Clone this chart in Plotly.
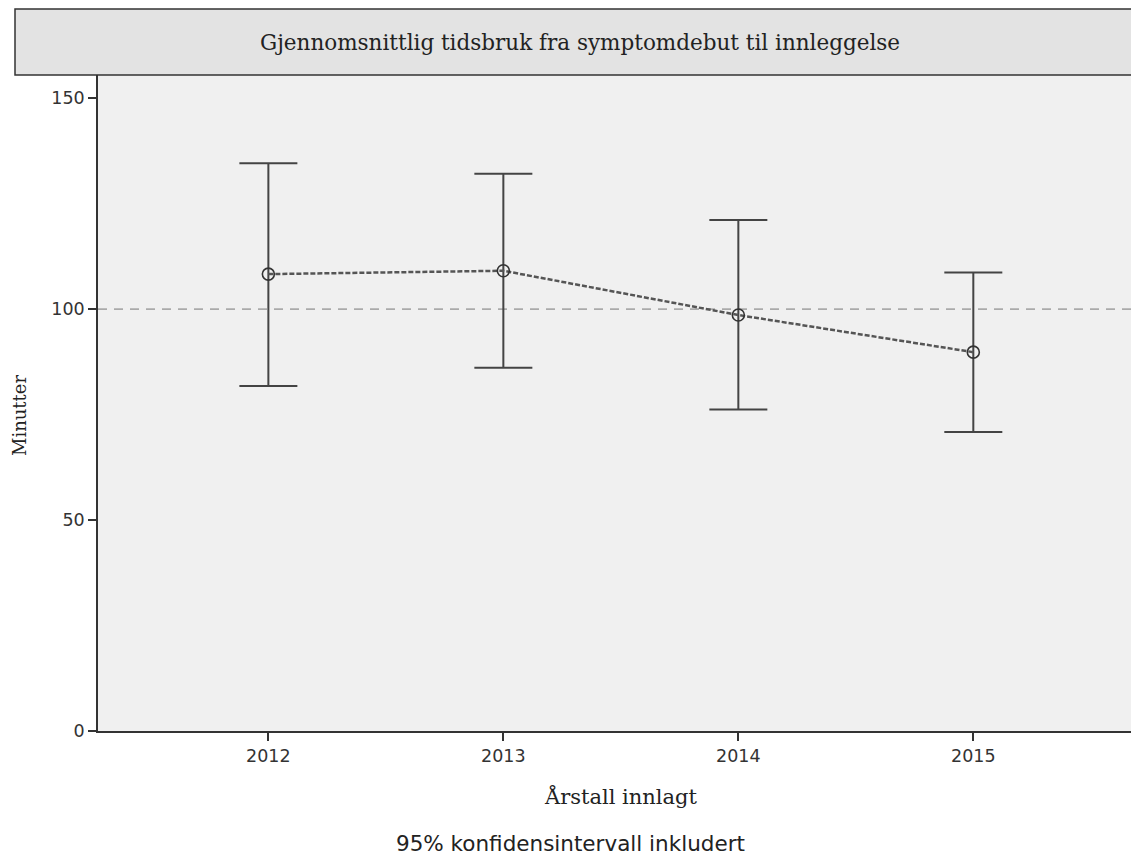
import plotly.graph_objects as go

years = [2012, 2013, 2014, 2015]
year_labels = ["2012", "2013", "2014", "2015"]
means = [108.3, 109.1, 98.6, 89.8]
ci_upper = [134.6, 132.1, 121.1, 108.7]
ci_lower = [81.8, 86.1, 76.2, 70.9]
ref_value = 100
y_ticks = [0, 50, 100, 150]

err_plus = [u - m for u, m in zip(ci_upper, means)]
err_minus = [m - l for m, l in zip(means, ci_lower)]

W, H = 1131, 855
L, R, T, B = 98, 0, 75, 124
pw, ph = W - L - R, H - T - B

def px_x(p):
    return (p - L) / pw

def px_y(p):
    return (H - B - p) / ph

fig = go.Figure()
fig.add_trace(go.Scatter(
    x=years, y=means, mode="lines+markers",
    line=dict(color="#555555", width=2.5, dash="5px,2px"),
    marker=dict(symbol="circle-open", size=12, color="#333333", line=dict(width=1.6, color="#333333")),
    error_y=dict(type="data", symmetric=False, array=err_plus, arrayminus=err_minus,
                 color="#444444", thickness=2, width=29),
    showlegend=False, hoverinfo="skip",
))

fig.add_shape(type="line", xref="paper", yref="y", x0=0, x1=1, y0=ref_value, y1=ref_value,
              line=dict(color="#aaaaaa", width=1.8, dash="9px,7px"), layer="below")

# title box
fig.add_shape(type="rect", xref="paper", yref="paper", x0=px_x(15), x1=px_x(1140),
              y0=px_y(75), y1=px_y(9), fillcolor="#e3e3e3", line=dict(color="#333333", width=1.5),
              layer="above")

fig.add_annotation(text="Gjennomsnittlig tidsbruk fra symptomdebut til innleggelse",
                   xref="paper", yref="paper", x=px_x(580), y=px_y(43), showarrow=False,
                   xanchor="center", yanchor="middle",
                   font=dict(family="DejaVu Serif", size=21.5, color="#222222"))
fig.add_annotation(text="Årstall innlagt", xref="paper", yref="paper", x=px_x(620), y=px_y(796),
                   showarrow=False, xanchor="center", yanchor="middle",
                   font=dict(family="DejaVu Serif", size=21, color="#222222"))
fig.add_annotation(text="Minutter", xref="paper", yref="paper", x=px_x(19), y=px_y(416),
                   showarrow=False, xanchor="center", yanchor="middle", textangle=-90,
                   font=dict(family="DejaVu Serif", size=18, color="#222222"))
fig.add_annotation(text="95% konfidensintervall inkludert", xref="paper", yref="paper",
                   x=px_x(570), y=px_y(843), showarrow=False, xanchor="center", yanchor="middle",
                   font=dict(family="DejaVu Sans", size=21.5, color="#222222"))

fig.update_layout(
    width=W, height=H, margin=dict(l=L, r=R, t=T, b=B),
    paper_bgcolor="white", plot_bgcolor="#f0f0f0",
    xaxis=dict(range=[2011.275, 2015.671], tickvals=years, ticktext=year_labels,
               showgrid=False, zeroline=False, showline=True, linecolor="#333333", linewidth=1.5,
               ticks="outside", ticklen=8, tickwidth=1.5, tickcolor="#333333",
               tickfont=dict(family="DejaVu Sans", size=17.5, color="#333333")),
    yaxis=dict(range=[0, 155.5], tickvals=y_ticks, showgrid=False, zeroline=False,
               showline=True, linecolor="#333333", linewidth=1.5,
               ticks="outside", ticklen=8, tickwidth=1.5, tickcolor="#333333",
               tickfont=dict(family="DejaVu Sans", size=17.5, color="#333333")),
)

fig.write_html("out.html")
